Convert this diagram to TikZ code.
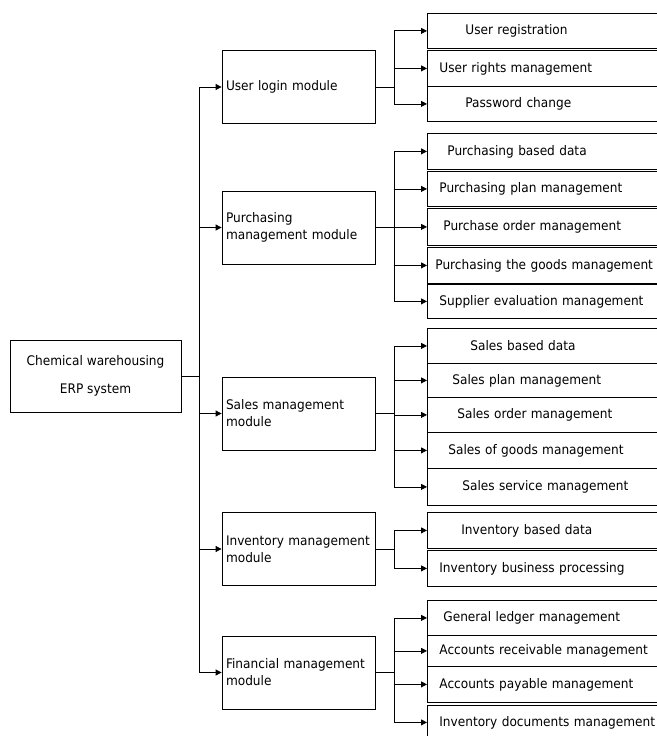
\documentclass[tikz,border=0pt]{standalone}
\usepackage{fontspec}
\setmainfont[FakeStretch=0.92]{DejaVu Sans}
\usetikzlibrary{arrows.meta}

\tikzset{
  box/.style={draw, line width=0.8bp, rectangle, inner sep=0pt},
  rootbox/.style={box, minimum width=171bp, minimum height=72bp, align=center,
    font=\fontsize{13.2bp}{28bp}\selectfont},
  modbox/.style={box, minimum width=153bp, minimum height=73bp, inner xsep=4bp,
    text width=145bp, align=left, font=\fontsize{13.2bp}{17bp}\selectfont},
  subbox/.style={box, anchor=north west, minimum width=260bp, text width=260bp,
    align=left, font=\fontsize{13.2bp}{17bp}\selectfont},
  link/.style={line width=0.8bp},
  heavy/.style={line width=1.6bp},
  arr/.style={line width=0.8bp, -{Triangle[length=6bp,width=6bp]}},
}

% \leafbox{name}{top}{height}{text indent}{label}
\newcommand{\leafbox}[5]{%
  \node[subbox, minimum height=#3bp] (#1) at (427,#2) {\hspace*{#4bp}#5};}

\begin{document}
\begin{tikzpicture}[x=1bp, y=-1bp]
\useasboundingbox (0,0) rectangle (657,736);

% root
\node[rootbox] (erp) at (95.5,376) {Chemical warehousing\\ERP system};
\coordinate (trunk) at (199,376);
\draw[link] (erp.east) -- (trunk);

% modules
\node[modbox] (login) at (298.5,87)    {User login module};
\node[modbox] (purch) at (298.5,227.5) {Purchasing\\management module};
\node[modbox] (sales) at (298.5,413.5) {Sales management\\module};
\node[modbox] (inv)   at (298.5,549)   {Inventory management\\module};
\node[modbox] (fin)   at (298.5,672.5) {Financial management\\module};

\foreach \m in {login,purch,sales,inv,fin}
  \draw[arr] (trunk) |- (\m.west);

% junctions of the module branches
\coordinate (jlogin) at (394,87);
\coordinate (jpurch) at (394,227.5);
\coordinate (jsales) at (394,413.5);
\coordinate (jinv)   at (394,549);
\coordinate (jfin)   at (394,672.5);
\draw[link]  (login.east) -- (jlogin);
\draw[heavy] (purch.east) -- (jpurch);
\draw[heavy] (sales.east) -- (jsales);
\draw[link]  (inv.east)   -- (jinv);
\draw[heavy] (fin.east)   -- (jfin);

% user login
\leafbox{ureg}{13}{35}{38}{User registration}
\leafbox{urig}{50}{36}{12}{User rights management}
\leafbox{upwd}{86}{35}{38}{Password change}

% purchasing
\leafbox{pbase}{133}{36}{20}{Purchasing based data}
\leafbox{pplan}{171}{35}{12}{Purchasing plan management}
\leafbox{pord}{208}{37}{16}{Purchase order management}
\leafbox{pgood}{247}{36}{8}{Purchasing the goods management}
\leafbox{psup}{284}{34}{12}{Supplier evaluation management}

% sales
\leafbox{sbase}{328}{35}{43}{Sales based data}
\leafbox{splan}{363}{34}{25}{Sales plan management}
\leafbox{sord}{397}{35}{30}{Sales order management}
\leafbox{sgood}{432}{36}{21}{Sales of goods management}
\leafbox{sserv}{468}{37}{35}{Sales service management}

% inventory
\leafbox{ibase}{512}{36}{34}{Inventory based data}
\leafbox{ibus}{550}{36}{12}{Inventory business processing}

% financial
\leafbox{fgen}{600}{35}{16}{General ledger management}
\leafbox{frec}{635}{31}{12}{Accounts receivable management}
\leafbox{fpay}{666}{36}{12}{Accounts payable management}
\leafbox{fdoc}{705}{34}{12}{Inventory documents management}

\foreach \s in {ureg,urig,upwd} \draw[arr] (jlogin) |- (\s.west);
\foreach \s in {pbase,pplan,pord,pgood,psup} \draw[arr] (jpurch) |- (\s.west);
\foreach \s in {sbase,splan,sord,sgood,sserv} \draw[arr] (jsales) |- (\s.west);
\foreach \s in {ibase,ibus} \draw[arr] (jinv) |- (\s.west);
\foreach \s in {fgen,frec,fpay,fdoc} \draw[arr] (jfin) |- (\s.west);
\end{tikzpicture}
\end{document}
